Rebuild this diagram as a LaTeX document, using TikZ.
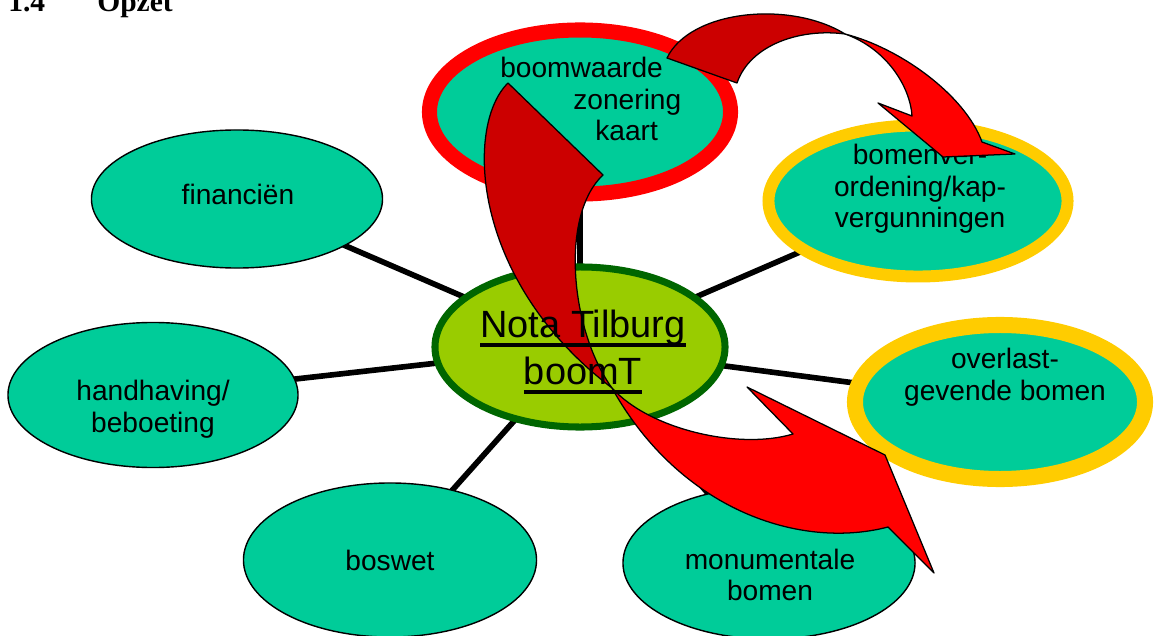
\documentclass[tikz,border=0pt]{standalone}
\usepackage{fontspec}
\setmainfont{Liberation Sans}
\newfontfamily\kopfont{Liberation Serif}
\usetikzlibrary{shapes.geometric,backgrounds}

\definecolor{vlak}{HTML}{00CC99}
\definecolor{kern}{HTML}{99CC00}
\definecolor{kernrand}{HTML}{006600}
\definecolor{donkerrood}{HTML}{CC0000}
\definecolor{felrood}{HTML}{FF0000}
\definecolor{oker}{HTML}{FFCC00}

\newsavebox\ondbox
\newcommand\onderstreep[1]{\sbox\ondbox{#1}\rlap{\rule[-6.2pt]{\wd\ondbox}{2.5pt}}\usebox\ondbox}

\tikzset{
  thema/.style={ellipse, fill=vlak, draw=black, line width=1pt, inner sep=0pt},
  rodering/.style={thema, draw=felrood},
  gelering/.style={thema, draw=oker},
  tekst/.style={align=center, inner sep=0pt, font=\fontsize{20}{22.4}\selectfont},
  spaak/.style={line width=4pt},
  rug/.style={fill=donkerrood, draw=black, line width=0.9pt, line join=round},
  voorkant/.style={rug, fill=felrood}
}

\begin{document}
\begin{tikzpicture}[x=0.025cm, y=-0.025cm]
\useasboundingbox (0,0) rectangle (1162,636);
% kop
\node[anchor=base west, inner sep=0pt, font=\kopfont\bfseries\fontsize{21}{24}\selectfont] (nummer) at (8,12) {1.4};
\node[anchor=base west, inner sep=0pt, font=\kopfont\bfseries\fontsize{21}{24}\selectfont] (titel) at (97,12) {Opzet};

% ellipsen
\node[thema, draw=kernrand, fill=kern, line width=5pt, minimum width=7.25cm, minimum height=4cm] (nota) at (580,347) {};
\node[rodering, line width=10.7pt, minimum width=7.525cm, minimum height=4.1cm] (zonering) at (580,112) {};
\node[thema, minimum width=7.275cm, minimum height=3.45cm] (financien) at (237,199) {};
\node[gelering, line width=8.5pt, minimum width=7.475cm, minimum height=3.775cm] (verordening) at (918,201) {};
\node[gelering, line width=11.4pt, minimum width=7.25cm, minimum height=3.85cm] (overlast) at (1000,402) {};
\node[thema, minimum width=7.25cm, minimum height=3.625cm] (handhaving) at (153,395) {};
\node[thema, minimum width=7.325cm, minimum height=3.85cm] (boswet) at (390,560) {};
\node[thema, minimum width=7.3cm, minimum height=3.8cm] (monument) at (769,563) {};

\begin{pgfonlayer}{background}
\foreach \doel in {zonering,financien,verordening,overlast,handhaving,boswet,monument}
  \draw[spaak] (nota.center) -- (\doel.center);
\end{pgfonlayer}

% teksten
\node[tekst, anchor=west, align=left] (zonering-t) at (500,99) {boomwaarde\\\hspace*{52pt}zonering\\\hspace*{67.6pt}kaart};
\node[tekst] (financien-t) at (238,194) {financiën};
\node[tekst] (verordening-t) at (920,189) {bomenver-\\ordening/kap-\\vergunningen};
\node[tekst] (overlast-t) at (1005,377) {overlast-\\gevende bomen};
\node[tekst] (handhaving-t) at (153,409) {handhaving/\\beboeting};
\node[tekst] (boswet-t) at (390,560) {boswet};
\node[tekst] (monument-t) at (770,575) {monumentale\\bomen};

% pijlen
\filldraw[rug] (667,58) .. controls (690,10) and (790,0) .. (845,34)
  .. controls (800,28) and (750,45) .. (737,83) -- cycle;
\filldraw[voorkant] (845,34) .. controls (900,48) and (965,95) .. (982,142)
  -- (1015,154) -- (943,157) -- (878,103) -- (912,116)
  .. controls (910,85) and (885,48) .. (845,34) -- cycle;
\filldraw[rug] (508,83) .. controls (465,125) and (470,280) .. (612,388)
  .. controls (570,330) and (560,215) .. (603,175) -- cycle;
\filldraw[voorkant] (612,388) .. controls (650,430) and (740,450) .. (793,434)
  -- (747,387) -- (885,455) -- (934,573) -- (888,527)
  .. controls (800,550) and (680,510) .. (612,388) -- cycle;

\node[align=center, inner sep=0pt, font=\fontsize{27}{33.4}\selectfont] (nota-t) at (583,352) {\onderstreep{Nota Tilburg}\\\onderstreep{boomT}};
\end{tikzpicture}
\end{document}
